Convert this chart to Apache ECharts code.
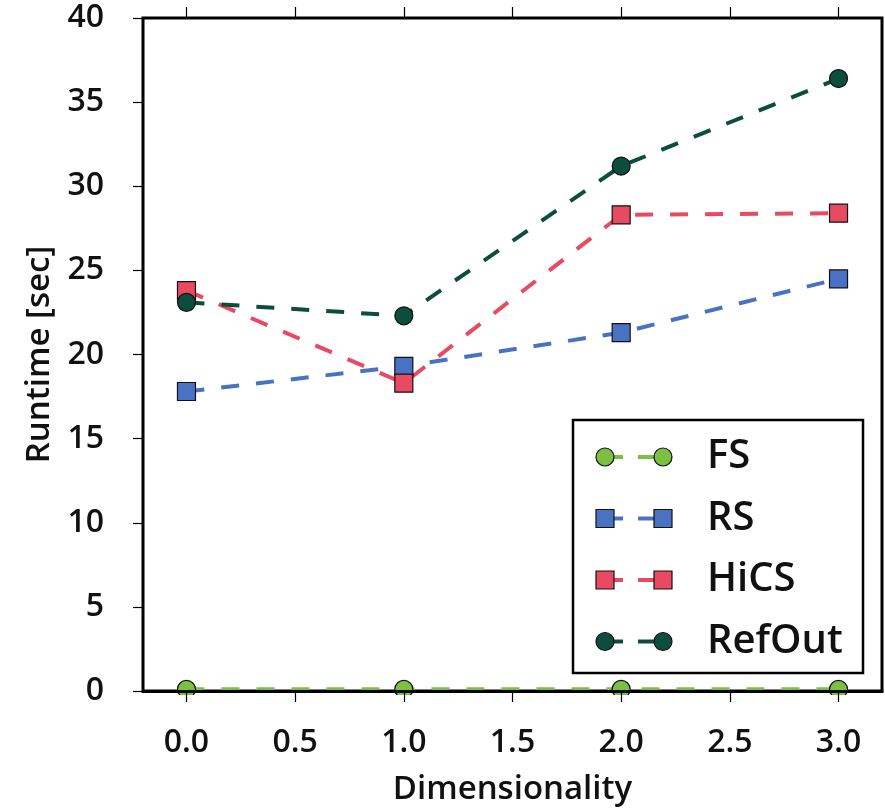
<!DOCTYPE html>
<html>
<head>
<meta charset="utf-8">
<script src="https://cdn.jsdelivr.net/npm/echarts@6/dist/echarts.min.js"></script>
<style>html,body{margin:0;padding:0;background:#fff}#c{width:885px;height:811px}</style>
</head>
<body>
<div id="c"></div>
<script>
const dims = [0, 1, 2, 3];
const xTicks = [0, 0.5, 1, 1.5, 2, 2.5, 3];
const seriesNames = ['FS', 'RS', 'HiCS', 'RefOut'];
const fsValues = [0.1, 0.1, 0.1, 0.1];
const rsValues = [17.8, 19.3, 21.3, 24.5];
const hicsValues = [23.8, 18.3, 28.3, 28.4];
const refoutValues = [23.1, 22.3, 31.2, 36.4];
const colors = ['#7cc043', '#4a72c2', '#e84a62', '#0d4d3e'];
const symbols = ['circle', 'rect', 'rect', 'circle'];
const allValues = [fsValues, rsValues, hicsValues, refoutValues];

const FONT = '"Open Sans", "DejaVu Sans", sans-serif';
const WEIGHT = 600;
const chart = echarts.init(document.getElementById('c'), null, {renderer: 'canvas'});

const series = seriesNames.map((name, i) => ({
  name: name,
  type: 'line',
  data: dims.map((d, j) => [d, allValues[i][j]]),
  symbol: symbols[i],
  symbolSize: 18,
  itemStyle: {color: colors[i], borderColor: '#111', borderWidth: 1.2},
  lineStyle: {color: colors[i], width: 4, type: [18, 17]},
  z: 2,
  animation: false
}));

// legend drawn as graphic items built from the series arrays
const legendItems = [];
const lx0 = 605, lx1 = 663, ly0 = 457, ldy = 61.5;
legendItems.push({type: 'rect', shape: {x: 573, y: 420, width: 290, height: 253},
  style: {fill: '#fff', stroke: '#000', lineWidth: 2.5}, z: 20});
seriesNames.forEach((name, i) => {
  const y = ly0 + i * ldy;
  legendItems.push({type: 'line', shape: {x1: lx0, y1: y, x2: 623, y2: y}, style: {stroke: colors[i], lineWidth: 4}, z: 21});
  legendItems.push({type: 'line', shape: {x1: 638, y1: y, x2: lx1, y2: y}, style: {stroke: colors[i], lineWidth: 4}, z: 21});
  [lx0, lx1].forEach(x => {
    if (symbols[i] === 'circle') {
      legendItems.push({type: 'circle', shape: {cx: x, cy: y, r: 9}, style: {fill: colors[i], stroke: '#111', lineWidth: 1.2}, z: 22});
    } else {
      legendItems.push({type: 'rect', shape: {x: x - 9, y: y - 9, width: 18, height: 18}, style: {fill: colors[i], stroke: '#111', lineWidth: 1.2}, z: 22});
    }
  });
  legendItems.push({type: 'text', x: 707, y: y, style: {text: name, font: WEIGHT + ' 40px ' + FONT, fill: '#111', verticalAlign: 'middle', align: 'left'}, z: 22});
});
// white strip just below the plot so markers at zero are cut at the axis
legendItems.push({type: 'rect', shape: {x: 146, y: 695, width: 735, height: 16}, style: {fill: '#fff'}, z: 5});

const option = {
  backgroundColor: '#fff',
  animation: false,
  grid: {left: 143, right: 3, top: 18, bottom: 118, show: true, borderColor: '#000', borderWidth: 3, backgroundColor: 'transparent'},
  xAxis: [{
    type: 'value', min: -0.2, max: 3.2, position: 'bottom', z: 10,
    name: 'Dimensionality', nameLocation: 'middle', nameGap: 82,
    nameTextStyle: {fontFamily: FONT, fontWeight: WEIGHT, fontSize: 33, color: '#111'},
    axisLine: {show: true, onZero: false, lineStyle: {color: '#000', width: 3}},
    axisTick: {show: true, inside: false, length: 11, customValues: xTicks, lineStyle: {color: '#000', width: 1.2}},
    axisLabel: {show: true, customValues: xTicks, margin: 36, fontFamily: FONT, fontWeight: WEIGHT, fontSize: 32, color: '#111',
      formatter: v => v.toFixed(1)},
    splitLine: {show: false}
  }, {
    type: 'value', min: -0.2, max: 3.2, position: 'top', z: 10,
    axisLine: {show: false, onZero: false},
    axisTick: {show: true, inside: false, length: 11, customValues: xTicks, lineStyle: {color: '#000', width: 1.2}},
    axisLabel: {show: false},
    splitLine: {show: false}
  }],
  yAxis: {
    type: 'value', min: 0, max: 40, interval: 5, z: 10,
    name: 'Runtime [sec]', nameLocation: 'middle', nameGap: 86, nameRotate: 90,
    nameTextStyle: {fontFamily: FONT, fontWeight: WEIGHT, fontSize: 33, color: '#111'},
    axisLine: {show: false, onZero: false},
    axisTick: {show: true, inside: false, length: 10, lineStyle: {color: '#000', width: 1.2}},
    axisLabel: {margin: 39, fontFamily: FONT, fontWeight: WEIGHT, fontSize: 32, color: '#111'},
    splitLine: {show: false}
  },
  series: series,
  graphic: legendItems
};
chart.setOption(option);
</script>
</body>
</html>
